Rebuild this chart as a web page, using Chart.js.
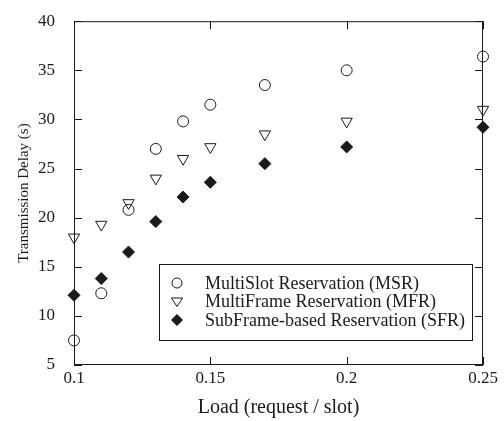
<!DOCTYPE html>
<html>
<head>
<meta charset="utf-8">
<script src="https://cdn.jsdelivr.net/npm/chart.js@4/dist/chart.umd.min.js"></script>
<style>
  body { margin: 0; background: #fff; }
  #wrap { width: 504px; height: 421px; }
</style>
</head>
<body>
<div id="wrap"><canvas id="delay" width="504" height="421"></canvas></div>
<script>
// load values
var loads = [0.1, 0.11, 0.12, 0.13, 0.14, 0.15, 0.17, 0.2, 0.25];
var msrDelay = [7.5, 12.3, 20.8, 27.0, 29.8, 31.5, 33.5, 35.0, 36.4];
var mfrDelay = [18.0, 19.3, 21.5, 24.0, 26.0, 27.2, 28.5, 29.8, 31.0];
var sfrDelay = [12.1, 13.8, 16.5, 19.6, 22.1, 23.6, 25.5, 27.2, 29.2];
var seriesNames = ['MultiSlot Reservation (MSR)', 'MultiFrame Reservation (MFR)', 'SubFrame-based Reservation (SFR)'];
var xTicks = [0.1, 0.15, 0.2, 0.25];
var yTicks = [5, 10, 15, 20, 25, 30, 35, 40];

var ink = '#1a1a1a';
var serif = 'Liberation Serif';

function pts(ys) {
    return loads.map(function(x, i) { return {x: x, y: ys[i]}; });
}

// ticks pointing inward on all four sides + frame
var frameTicks = {
    id: 'frameTicks',
    afterDraw: function(chart) {
        var ctx = chart.ctx, a = chart.chartArea;
        var xs = chart.scales.x, ys = chart.scales.y;
        var len = 8;
        ctx.save();
        ctx.strokeStyle = ink;
        ctx.lineWidth = 1;
        ctx.strokeRect(a.left + 0.5, a.top + 0.5, a.right - a.left - 1, a.bottom - a.top - 1);
        ctx.beginPath();
        yTicks.forEach(function(v) {
            var py = Math.round(ys.getPixelForValue(v)) + 0.5;
            ctx.moveTo(a.left, py); ctx.lineTo(a.left + len, py);
            ctx.moveTo(a.right, py); ctx.lineTo(a.right - len, py);
        });
        xTicks.forEach(function(v) {
            var px = Math.round(xs.getPixelForValue(v)) + 0.5;
            ctx.moveTo(px, a.bottom); ctx.lineTo(px, a.bottom - len);
            ctx.moveTo(px, a.top); ctx.lineTo(px, a.top + len);
        });
        ctx.stroke();
        ctx.restore();
    }
};

// boxed legend in the lower right of the plot
var boxLegend = {
    id: 'boxLegend',
    afterDraw: function(chart) {
        var ctx = chart.ctx;
        var bx = 159, by = 264, bw = 313, bh = 76;
        ctx.save();
        ctx.fillStyle = '#fff';
        ctx.fillRect(bx, by, bw, bh);
        ctx.strokeStyle = ink;
        ctx.lineWidth = 1;
        ctx.strokeRect(bx + 0.5, by + 0.5, bw, bh);
        ctx.font = '18px "' + serif + '"';
        ctx.textBaseline = 'middle';
        chart.data.datasets.forEach(function(ds, i) {
            var cy = 283 + i * 18.5, cx = 177;
            ctx.fillStyle = ink;
            ctx.fillText(seriesNames[i], 205, cy + 1);
            ctx.beginPath();
            if (i === 0) {
                ctx.arc(cx, cy, 5, 0, Math.PI * 2);
                ctx.stroke();
            } else if (i === 1) {
                ctx.moveTo(cx - 5.5, cy - 3.5); ctx.lineTo(cx + 5.5, cy - 3.5); ctx.lineTo(cx, cy + 5);
                ctx.closePath();
                ctx.stroke();
            } else {
                ctx.moveTo(cx, cy - 6); ctx.lineTo(cx + 6, cy); ctx.lineTo(cx, cy + 6); ctx.lineTo(cx - 6, cy);
                ctx.closePath();
                ctx.fill();
            }
        });
        ctx.restore();
    }
};

var ctx = document.getElementById('delay').getContext('2d');
var delayChart = new Chart(ctx, {
    type: 'scatter',
    data: {
        datasets: [{
            label: seriesNames[0],
            data: pts(msrDelay),
            pointStyle: 'circle',
            pointRadius: 5.5,
            backgroundColor: 'rgba(255,255,255,0)',
            borderColor: ink,
            borderWidth: 1,
            clip: false
        }, {
            label: seriesNames[1],
            data: pts(mfrDelay),
            pointStyle: 'triangle',
            pointRotation: 180,
            pointRadius: 6.5,
            backgroundColor: 'rgba(255,255,255,0)',
            borderColor: ink,
            borderWidth: 1,
            clip: false
        }, {
            label: seriesNames[2],
            data: pts(sfrDelay),
            pointStyle: 'rectRot',
            pointRadius: 6,
            backgroundColor: ink,
            borderColor: ink,
            borderWidth: 1,
            clip: false
        }]
    },
    options: {
        responsive: false,
        animation: false,
        events: [],
        layout: { padding: { top: 15, right: 21, left: 0, bottom: 0 } },
        plugins: { legend: { display: false }, tooltip: { enabled: false } },
        scales: {
            x: {
                type: 'linear',
                min: 0.1,
                max: 0.25,
                afterBuildTicks: function(s) { s.ticks = xTicks.map(function(v) { return {value: v}; }); },
                afterFit: function(s) { s.height = 56; },
                grid: { display: false },
                border: { display: false },
                ticks: {
                    padding: -5,
                    color: ink,
                    font: { family: serif, size: 17 },
                    callback: function(v) { return String(v); }
                },
                title: {
                    display: true,
                    text: 'Load (request / slot)',
                    color: ink,
                    font: { family: serif, size: 20 },
                    padding: { top: 0, bottom: 1 }
                }
            },
            y: {
                min: 5,
                max: 40,
                afterBuildTicks: function(s) { s.ticks = yTicks.map(function(v) { return {value: v}; }); },
                afterFit: function(s) { s.width = 74; },
                grid: { display: false },
                border: { display: false },
                ticks: {
                    padding: 11,
                    color: ink,
                    font: { family: serif, size: 17 }
                },
                title: {
                    display: true,
                    text: 'Transmission Delay (s)',
                    color: ink,
                    font: { family: serif, size: 15 },
                    padding: { top: 15, bottom: 0 }
                }
            }
        }
    },
    plugins: [frameTicks, boxLegend]
});
</script>
</body>
</html>
